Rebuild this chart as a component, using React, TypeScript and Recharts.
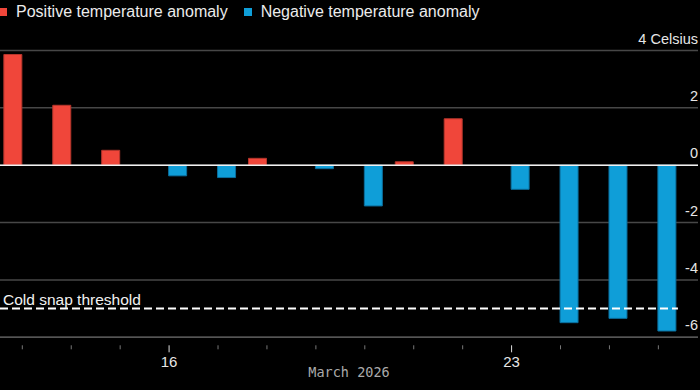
import { BarChart, Bar, XAxis, YAxis, CartesianGrid, ReferenceLine } from 'recharts';

// days of March 2026
const days = [13, 14, 15, 16, 17, 18, 19, 20, 21, 22, 23, 24, 25, 26]
const positive = [3.86, 2.09, 0.52, null, null, 0.24, null, null, 0.12, 1.62, null, null, null, null]
const negative = [null, null, null, -0.37, -0.43, null, -0.12, -1.42, null, null, -0.84, -5.49, -5.34, -5.78]
const yTicks = [-6, -4, -2, 0, 2, 4]
const labeledDays = [16, 23]
const threshold = -5

const data = days.map((d, i) => ({ day: d, pos: positive[i], neg: negative[i] }))

const RED = '#f0463a'
const BLUE = '#0f9ed8'
const FONT = '"Liberation Sans", Arial, sans-serif'

const XTick = (props) => {
  const { x, y, payload } = props
  const major = labeledDays.includes(payload.value)
  return (
    <g>
      <line x1={x} x2={x} y1={y} y2={y + (major ? 7 : 4)} stroke={major ? '#ddd' : '#777'} strokeWidth={1} />
      {major && (
        <text x={x} y={y + 22} textAnchor="middle" fill="#e6e6e6" fontSize={15} fontFamily={FONT}>
          {payload.value}
        </text>
      )}
    </g>
  )
}

const YTick = (props) => {
  const { y, payload } = props
  return (
    <text x={698} y={y - 7} textAnchor="end" fill="#e6e6e6" fontSize={14.5} fontFamily={FONT}>
      {payload.value === 4 ? '4 Celsius' : payload.value}
    </text>
  )
}

const LegendItem = ({ color, label }) => (
  <span style={{ display: 'inline-flex', alignItems: 'center', marginRight: 16 }}>
    <span style={{ width: 8, height: 8, background: color, marginRight: 9, display: 'inline-block' }} />
    {label}
  </span>
)

const App = () => {
  return (
    <div style={{ position: 'relative', width: 700, height: 390, background: '#000', overflow: 'hidden' }}>
      <style>{'body{margin:0;background:#000}'}</style>
      <div style={{ position: 'absolute', left: -1, top: 2, color: '#ececec', fontFamily: FONT, fontSize: 16, whiteSpace: 'nowrap' }}>
        <LegendItem color={RED} label="Positive temperature anomaly" />
        <LegendItem color={BLUE} label="Negative temperature anomaly" />
      </div>
      <BarChart
        width={700}
        height={390}
        data={data}
        margin={{ top: 50.5, right: 0, bottom: 12.7, left: 0 }}
        barGap={0}
      >
        <CartesianGrid vertical={false} stroke="#474747" strokeWidth={1.5} />
        <XAxis
          dataKey="day"
          type="number"
          domain={[12.544, 26.81]}
          ticks={days}
          allowDataOverflow
          height={40}
          axisLine={{ stroke: '#555', strokeWidth: 1.5 }}
          tickLine={false}
          tick={<XTick />}
          interval={0}
          label={({ viewBox }) => (
            <text
              x={viewBox.x + viewBox.width / 2}
              y={viewBox.y + 39.5}
              textAnchor="middle"
              fill="#aaa"
              fontSize={13.5}
              fontFamily='"DejaVu Sans Mono", monospace'
            >
              March 2026
            </text>
          )}
        />
        <YAxis
          orientation="right"
          width={2}
          domain={[-6, 4]}
          ticks={yTicks}
          axisLine={false}
          tickLine={false}
          tick={<YTick />}
          interval={0}
        />
        <ReferenceLine y={0} stroke="#f2f2f2" strokeWidth={1.5} />
        <Bar dataKey="pos" fill={RED} stroke="#b5362c" strokeWidth={1} barSize={18} isAnimationActive={false} />
        <Bar dataKey="neg" fill={BLUE} stroke="#0b6f9e" strokeWidth={1} barSize={18} isAnimationActive={false} />
        <ReferenceLine
          segment={[{ x: 12.544, y: threshold }, { x: 26.4, y: threshold }]}
          stroke="#fff"
          strokeWidth={2}
          strokeDasharray="8 4"
          label={({ viewBox }) => (
            <text x={3} y={viewBox.y - 4} fill="#f2f2f2" fontSize={15.5} fontFamily={FONT}>
              Cold snap threshold
            </text>
          )}
        />
      </BarChart>
    </div>
  )
}

export default App
